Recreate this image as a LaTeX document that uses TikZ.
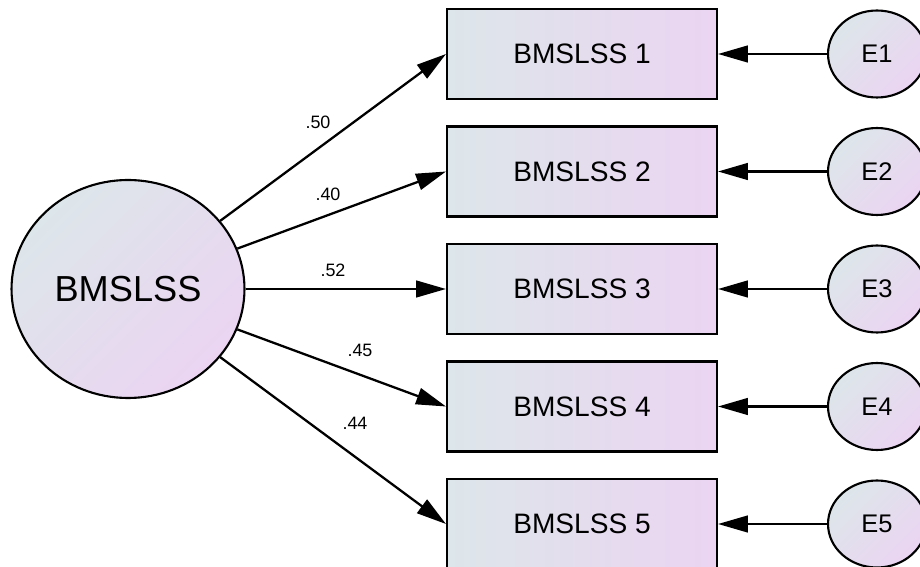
\documentclass[tikz,border=0pt]{standalone}
\usepackage{fontspec}
\setmainfont{Liberation Sans}
\usetikzlibrary{shapes.geometric,arrows.meta}
\definecolor{amosblue}{HTML}{DDE6EA}
\definecolor{amospink}{HTML}{EBD4F2}
\tikzset{
  obsbox/.style={draw=black, line width=1.2pt, rectangle, minimum width=5.4cm, minimum height=1.8cm,
    left color=amosblue, right color=amospink, font=\fontsize{16}{18}\selectfont},
  latent/.style={draw=black, line width=1.2pt, ellipse, inner sep=0pt, minimum width=4.66cm, minimum height=4.36cm,
    shading=axis, top color=amosblue, bottom color=amospink, shading angle=45, font=\fontsize{20.6}{23}\selectfont},
  errvar/.style={draw=black, line width=1.2pt, ellipse, inner sep=0pt, minimum width=1.96cm, minimum height=1.74cm,
    shading=axis, top color=amosblue, bottom color=amospink, shading angle=45, font=\fontsize{14.5}{17}\selectfont},
  path/.style={line width=1.3pt, -{Triangle[length=17pt, width=9.5pt]}},
  coef/.style={font=\fontsize{10.2}{12}\selectfont, inner sep=0pt}
}
\begin{document}
\begin{tikzpicture}[x=0.02cm, y=-0.02cm]
  \useasboundingbox (0,0) rectangle (920,567);
  \clip (0,0) rectangle (920,567);
  % latent factor
  \node[latent] (f) at (128,289) {BMSLSS};
  % observed items
  \node[obsbox] (b1) at (582,54) {BMSLSS 1};
  \node[obsbox] (b2) at (582,171.5) {BMSLSS 2};
  \node[obsbox] (b3) at (582,289) {BMSLSS 3};
  \node[obsbox] (b4) at (582,406.5) {BMSLSS 4};
  \node[obsbox] (b5) at (582,524) {BMSLSS 5};
  % error terms
  \node[errvar] (e1) at (877,54) {E1};
  \node[errvar] (e2) at (877,171.5) {E2};
  \node[errvar] (e3) at (877,289) {E3};
  \node[errvar] (e4) at (877,406.5) {E4};
  \node[errvar] (e5) at (877,524) {E5};

  % loadings
  \draw[path] (f) -- (b1.west);
  \draw[path] (f) -- (b2.west);
  \draw[path] (f) -- (b3.west);
  \draw[path] (f) -- (b4.west);
  \draw[path] (f) -- (b5.west);
  \node[coef] (l1) at (318,122) {.50};
  \node[coef] (l2) at (328,194) {.40};
  \node[coef] (l3) at (333,270) {.52};
  \node[coef] (l4) at (360,350) {.45};
  \node[coef] (l5) at (355,423) {.44};

  % errors into items
  \draw[path] (e1) -- (b1);
  \draw[path] (e2) -- (b2);
  \draw[path] (e3) -- (b3);
  \draw[path] (e4) -- (b4);
  \draw[path] (e5) -- (b5);
\end{tikzpicture}
\end{document}
